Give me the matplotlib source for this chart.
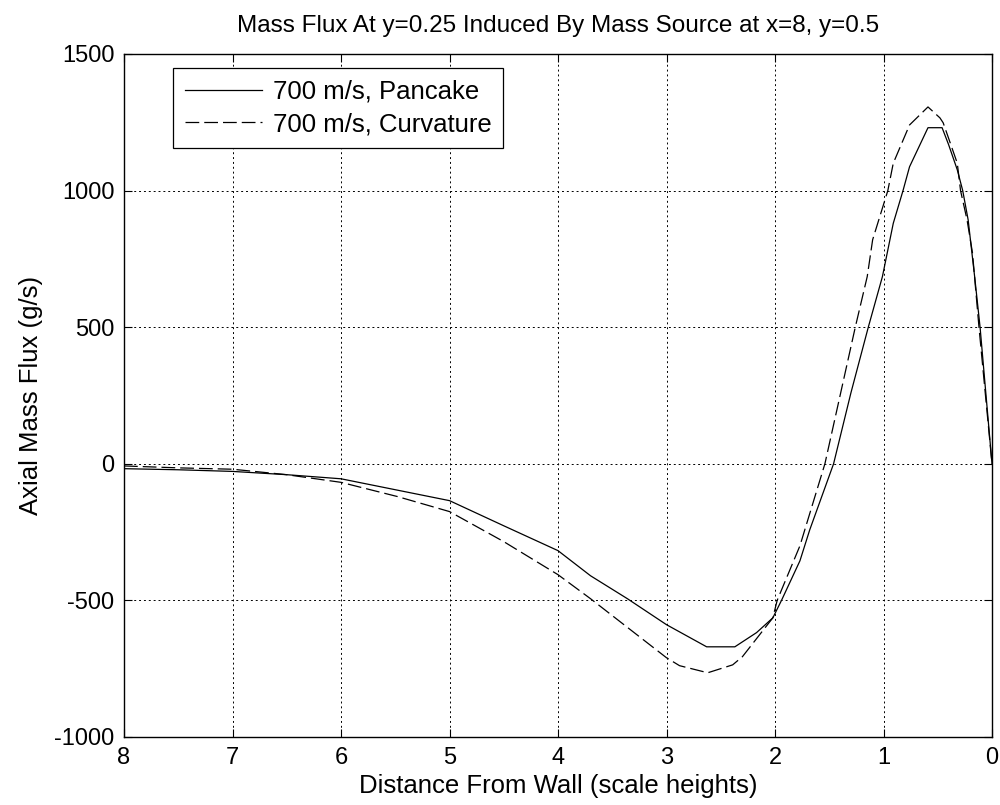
import matplotlib
matplotlib.use("Agg")
import matplotlib.pyplot as plt

# distance from wall (scale heights)
x_pancake = [8.0, 7.5, 7.0, 6.5, 6.0, 5.5, 5.0, 4.5, 4.0, 3.7, 3.36, 3.0, 2.63,
             2.37, 2.17, 2.02, 1.94, 1.77, 1.68, 1.46, 1.3, 1.14, 1.01, 0.91,
             0.82, 0.76, 0.59, 0.46, 0.40, 0.32, 0.27, 0.22, 0.16, 0.11, 0.0]
y_pancake = [-18, -22, -28, -40, -55, -95, -135, -227, -318, -410, -494, -589, -670,
             -670, -618, -564, -500, -355, -242, 0, 260, 500, 685, 880,
             1000, 1087, 1230, 1230, 1168, 1076, 1000, 893, 685, 500, 0]

x_curv = [8.0, 7.5, 7.0, 6.5, 6.0, 5.48, 5.0, 4.5, 4.0, 3.7, 3.0, 2.88, 2.62,
          2.39, 2.3, 2.02, 1.98, 1.77, 1.54, 1.26, 1.15, 1.10, 0.96, 0.91,
          0.76, 0.59, 0.48, 0.45, 0.39, 0.32, 0.29, 0.23, 0.18, 0.12, 0.0]
y_curv = [-8, -15, -20, -40, -68, -120, -175, -285, -406, -494, -710, -739, -765,
          -736, -706, -564, -500, -300, 0, 500, 685, 820, 1000, 1100,
          1240, 1306, 1266, 1248, 1180, 1100, 1000, 893, 772, 500, 0]

plt.rcParams["font.family"] = ["Liberation Sans", "DejaVu Sans"]
plt.rcParams["axes.unicode_minus"] = False

fig = plt.figure(figsize=(10, 8.05), dpi=100)
ax = fig.add_axes([0.124, 0.0845, 0.868, 0.8485])

ax.plot(x_pancake, y_pancake, color="black", lw=0.9, label="700 m/s, Pancake")
ax.plot(x_curv, y_curv, color="black", lw=0.9, dashes=(11, 4), label="700 m/s, Curvature")

ax.set_xlim(8, 0)
ax.set_ylim(-1000, 1500)
ax.set_xticks(range(8, -1, -1))
ax.set_yticks(range(-1000, 1501, 500))
ax.grid(True, color="black", linestyle=(0, (2, 3)), linewidth=0.7)
ax.tick_params(direction="in", top=True, right=True, labelsize=17, length=6, pad=7)
for s in ax.spines.values():
    s.set_linewidth(1.0)

ax.set_title("Mass Flux At y=0.25 Induced By Mass Source at x=8, y=0.5", fontsize=17.5, pad=16)
ax.set_xlabel("Distance From Wall (scale heights)", fontsize=18.5, labelpad=4)
ax.set_ylabel("Axial Mass Flux (g/s)", fontsize=18.5, labelpad=8)

leg = ax.legend(loc="upper left", bbox_to_anchor=(0.0565, 0.9795), borderaxespad=0,
                fontsize=18.5, handlelength=3.0, handletextpad=0.43, fancybox=False,
                edgecolor="black", framealpha=1, borderpad=0.45, labelspacing=0.35)
leg.get_frame().set_linewidth(0.9)

fig.savefig("out.png", dpi=100)
